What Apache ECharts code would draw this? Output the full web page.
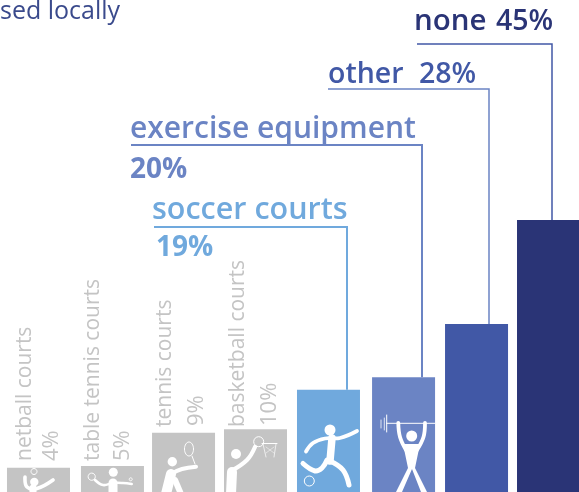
<!DOCTYPE html>
<html><head><meta charset="utf-8">
<style>html,body{margin:0;padding:0;background:#fff}#c{width:579px;height:492px}</style>
<script src="https://cdn.jsdelivr.net/npm/echarts@6/dist/echarts.min.js"></script></head>
<body><div id="c"></div><script>
const categories=['netball courts','table tennis courts','tennis courts','basketball courts','soccer courts','exercise equipment','other','none'];
const labelPercents=['4%','5%','9%','10%','19%','20%','28%','45%'];
const barLevels=[4.0,4.3,9.8,10.4,16.9,19.0,27.8,45.0];

const barColors=['#c4c4c4','#c4c4c4','#c4c4c4','#c4c4c4','#70a9dd','#6b84c4','#4158a6','#2a3476'];
const barNudge=[2.3,3.9,2.6,2.2,2.8,5.5,6.1,5.7];
const BAR_W=63;
const leaders={4:{from:[154,227],x:347,c:'#70a9dd',w:2},5:{from:[131,145],x:422,c:'#6b84c4',w:2},6:{from:[328,89],x:489,c:'#6b84c4',w:1.5},7:{from:[417,44],x:552,c:'#4158a6',w:1.5}};
const P=(pts,w)=>({p:pts,w});
const C=(x,y,r)=>({c:[x,y,r]});
const R=(x,y,r)=>({o:[x,y,r,r]});
const icons={
0:[R(34,471.5,3),C(34.3,482,4.2),P([[25,477],[27,487],[37,488.5],[53,480]],3.6),P([[33,488],[33,494]],7)],
1:[C(113.3,472.3,4.5),R(91.7,476.7,3.6),R(130.7,479.3,1.5),P([[95,480],[103,485],[113,483],[123,483],[131.7,484]],2.6),P([[113,483],[113,494]],9)],
2:[{o:[189,449,4.5,7]},P([[192,456],[195,464]],1),C(172.3,461.7,4.7),P([[196,466.7],[182,469],[171,474]],4),P([[171,474],[166,494]],10),P([[175,480],[181,494]],6)],
3:[R(258.7,441.7,5),C(236,454,5),P([[255,447],[247,460],[231,471]],4.2),P([[232,472],[231,494]],10),P([[262,443.5],[277,443.5]],1),P([[263,444],[266,457]],.7),P([[276,444],[274,457]],.7),P([[266,447],[274,453]],.5),P([[274,447],[266,453]],.5)],
4:[C(330,430,5.5),P([[306,451.5],[313,443],[325,438.5],[340,438],[357,431]],3.8),P([[332,438],[330,461]],7.5),P([[330,461],[343,470],[349,485]],5),P([[327,460],[322,468],[315,471],[303,463.5]],5),R(309.3,481,5)],
5:[C(411.7,436,5.5),P([[386.7,423.3],[435,423.3]],1),P([[381,420],[381,428]],.8),P([[384.3,418],[384.3,430]],.8),P([[386.7,415],[386.7,432]],1),P([[398.3,423],[400,437],[406,450]],3.8),P([[425,423],[423.5,437],[417,450]],3.8),{g:[[403,444],[420,444],[415,468],[427,492],[421,492],[412,469],[402,492],[396,492],[408,468]]}]
};
const F='"Open Sans"';
const texts=[
{t:'sed locally',x:0,y:12,f:`400 25px ${F}`,c:'#3a4a8c'},
{t:categories[7],x:414,y:22,f:`600 29.5px ${F}`,c:'#2a3476'},{t:labelPercents[7],x:496,y:22,f:`600 28.5px ${F}`,c:'#2a3476'},
{t:categories[6],x:328,y:75,f:`600 28.5px ${F}`,c:'#4158a6'},{t:labelPercents[6],x:419,y:75,f:`600 28.5px ${F}`,c:'#4158a6'},
{t:categories[5],x:130,y:129,f:`600 30px ${F}`,c:'#6b84c4'},{t:labelPercents[5],x:130,y:170,f:`700 28px ${F}`,c:'#6b84c4'},
{t:categories[4],x:152,y:210,f:`600 30.5px ${F}`,c:'#70a9dd'},{t:labelPercents[4],x:156,y:248,f:`700 28px ${F}`,c:'#70a9dd'}
];
const gray=[[25,461,52],[93,461,123],[165,427,197],[238,427,270]];
const graphic=texts.map(o=>({type:'text',style:{text:o.t,x:o.x,y:o.y,font:o.f,fill:o.c,textAlign:'left',textVerticalAlign:'middle'}}));
gray.forEach((g,i)=>{
  graphic.push({type:'text',x:g[0],y:g[1],rotation:Math.PI/2,style:{text:categories[i],font:`400 21px ${F}`,fill:'#c4c4c4',textAlign:'left',textVerticalAlign:'middle'}});
  graphic.push({type:'text',x:g[2],y:g[1]-(i>1?1:0),rotation:Math.PI/2,style:{text:labelPercents[i],font:`400 22px ${F}`,fill:'#c4c4c4',textAlign:'left',textVerticalAlign:'middle'}});
});
function iconChildren(list){
  const W='#fff';
  return (list||[]).map(s=>{
    if(s.c)return{type:'circle',shape:{cx:s.c[0],cy:s.c[1],r:s.c[2]},style:{fill:W}};
    if(s.o)return{type:'ellipse',shape:{cx:s.o[0],cy:s.o[1],rx:s.o[2],ry:s.o[3]},style:{fill:'none',stroke:W,lineWidth:1}};
    if(s.g)return{type:'polygon',shape:{points:s.g},style:{fill:W}};
    return{type:'polyline',shape:{points:s.p,smooth:s.p.length>2?0.4:0},style:{fill:'none',stroke:W,lineWidth:s.w,lineCap:'round',lineJoin:'round'}};
  });
}
const chart=echarts.init(document.getElementById('c'),null,{renderer:'canvas'});
chart.setOption({
  animation:false,
  grid:{left:0,right:0,top:0,bottom:0},
  xAxis:{type:'category',data:categories,show:false},
  yAxis:{type:'value',min:0,max:81.4,show:false},
  series:[{type:'custom',clip:false,data:barLevels.map((v,i)=>[i,v]),encode:{x:0,y:1},
    renderItem(params,api){
      const i=params.dataIndex,top=api.coord([i,api.value(1)]),base=api.coord([i,0]);
      const left=top[0]+barNudge[i]-BAR_W/2;
      const kids=[];
      const l=leaders[i];
      if(l)kids.push({type:'polyline',shape:{points:[l.from,[l.x,l.from[1]],[l.x,top[1]]]},style:{fill:'none',stroke:l.c,lineWidth:l.w}});
      kids.push({type:'rect',shape:{x:left,y:top[1],width:BAR_W,height:base[1]-top[1]},style:{fill:barColors[i]}});
      kids.push(...iconChildren(icons[i]));
      return{type:'group',children:kids};
    }}],
  graphic
});
</script></body></html>
